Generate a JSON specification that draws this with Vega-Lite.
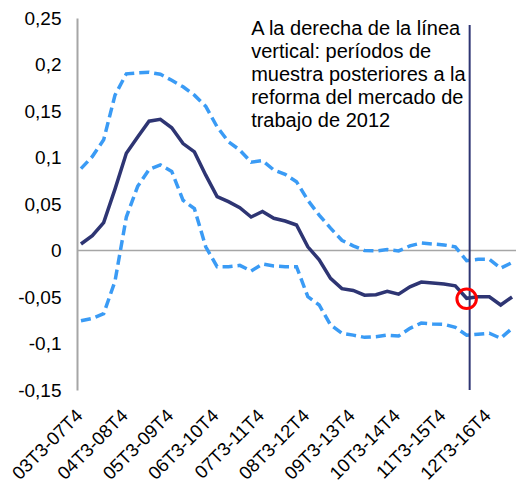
{
  "$schema": "https://vega.github.io/schema/vega-lite/v6.json",
  "width": 439,
  "height": 372,
  "autosize": "none",
  "padding": {"left": 77, "top": 18, "right": 0, "bottom": 94},
  "background": "white",
  "config": {"view": {"stroke": null}, "font": "Liberation Sans"},
  "data": {"values": [
    {"periodo": "03T3-07T4", "central": 0.007, "sup": 0.088, "inf": -0.0755},
    {"periodo": "03T4-08T1", "central": 0.016, "sup": 0.101, "inf": -0.073},
    {"periodo": "04T1-08T2", "central": 0.030, "sup": 0.119, "inf": -0.068},
    {"periodo": "04T2-08T3", "central": 0.066, "sup": 0.167, "inf": -0.033},
    {"periodo": "04T3-08T4", "central": 0.1045, "sup": 0.190, "inf": 0.036},
    {"periodo": "04T4-09T1", "central": 0.122, "sup": 0.191, "inf": 0.069},
    {"periodo": "05T1-09T2", "central": 0.139, "sup": 0.1916, "inf": 0.087},
    {"periodo": "05T2-09T3", "central": 0.141, "sup": 0.1895, "inf": 0.092},
    {"periodo": "05T3-09T4", "central": 0.132, "sup": 0.183, "inf": 0.085},
    {"periodo": "05T4-10T1", "central": 0.115, "sup": 0.176, "inf": 0.054},
    {"periodo": "06T1-10T2", "central": 0.106, "sup": 0.167, "inf": 0.045},
    {"periodo": "06T2-10T3", "central": 0.081, "sup": 0.155, "inf": 0.004},
    {"periodo": "06T3-10T4", "central": 0.058, "sup": 0.133, "inf": -0.0174},
    {"periodo": "06T4-11T1", "central": 0.0525, "sup": 0.117, "inf": -0.0174},
    {"periodo": "07T1-11T2", "central": 0.046, "sup": 0.108, "inf": -0.016},
    {"periodo": "07T2-11T3", "central": 0.036, "sup": 0.095, "inf": -0.022},
    {"periodo": "07T3-11T4", "central": 0.042, "sup": 0.0966, "inf": -0.0145},
    {"periodo": "07T4-12T1", "central": 0.0346, "sup": 0.0866, "inf": -0.0167},
    {"periodo": "08T1-12T2", "central": 0.0317, "sup": 0.082, "inf": -0.0174},
    {"periodo": "08T2-12T3", "central": 0.0274, "sup": 0.074, "inf": -0.0174},
    {"periodo": "08T3-12T4", "central": 0.004, "sup": 0.054, "inf": -0.0497},
    {"periodo": "08T4-13T1", "central": -0.010, "sup": 0.038, "inf": -0.0586},
    {"periodo": "09T1-13T2", "central": -0.030, "sup": 0.024, "inf": -0.080},
    {"periodo": "09T2-13T3", "central": -0.041, "sup": 0.011, "inf": -0.089},
    {"periodo": "09T3-13T4", "central": -0.043, "sup": 0.005, "inf": -0.091},
    {"periodo": "09T4-14T1", "central": -0.048, "sup": 0.000, "inf": -0.0934},
    {"periodo": "10T1-14T2", "central": -0.0475, "sup": -0.0005, "inf": -0.0927},
    {"periodo": "10T2-14T3", "central": -0.044, "sup": 0.001, "inf": -0.091},
    {"periodo": "10T3-14T4", "central": -0.047, "sup": -0.0005, "inf": -0.092},
    {"periodo": "10T4-15T1", "central": -0.039, "sup": 0.005, "inf": -0.0837},
    {"periodo": "11T1-15T2", "central": -0.034, "sup": 0.008, "inf": -0.078},
    {"periodo": "11T2-15T3", "central": -0.035, "sup": 0.007, "inf": -0.079},
    {"periodo": "11T3-15T4", "central": -0.036, "sup": 0.006, "inf": -0.0794},
    {"periodo": "11T4-16T1", "central": -0.038, "sup": 0.004, "inf": -0.0826},
    {"periodo": "12T1-16T2", "central": -0.0514, "sup": -0.011, "inf": -0.091},
    {"periodo": "12T2-16T3", "central": -0.0497, "sup": -0.0095, "inf": -0.090},
    {"periodo": "12T3-16T4", "central": -0.0497, "sup": -0.0095, "inf": -0.089},
    {"periodo": "12T4-17T1", "central": -0.0586, "sup": -0.019, "inf": -0.0944},
    {"periodo": "13T1-17T2", "central": -0.050, "sup": -0.013, "inf": -0.0837}
  ]},
  "encoding": {
    "x": {
      "field": "periodo", "type": "ordinal", "sort": null,
      "scale": {"type": "point", "padding": 0.35},
      "axis": {
        "title": null, "domain": false, "ticks": false, "grid": false,
        "values": ["03T3-07T4","04T3-08T4","05T3-09T4","06T3-10T4","07T3-11T4","08T3-12T4","09T3-13T4","10T3-14T4","11T3-15T4","12T3-16T4"],
        "labelAngle": -45, "labelAlign": "right", "labelBaseline": "middle",
        "labelFontSize": 18.5, "labelColor": "black", "labelPadding": 22, "labelOffset": -2, "labelFont": "Liberation Sans"
      }
    }
  },
  "layer": [
    {
      "data": {"values": [{}]},
      "mark": {"type": "rule", "color": "#A6A6A6", "strokeWidth": 1.5},
      "encoding": {"y": {"datum": 0, "type": "quantitative"}, "x": null}
    },
    {
      "mark": {"type": "line", "color": "#3A9BF5", "strokeWidth": 3.5, "strokeDash": [10, 5]},
      "encoding": {
        "y": {
          "field": "sup", "type": "quantitative",
          "scale": {"domain": [-0.15, 0.25], "nice": false, "zero": false},
          "axis": {
            "title": null, "values": [-0.15, -0.1, -0.05, 0, 0.05, 0.1, 0.15, 0.2, 0.25],
            "grid": false, "ticks": false, "domainColor": "#A6A6A6", "domainWidth": 2,
            "labelFontSize": 19, "labelColor": "black", "labelPadding": 16, "labelFont": "Liberation Sans",
            "labelExpr": "replace(toString(round(datum.value*100)/100), '.', ',')"
          }
        }
      }
    },
    {
      "mark": {"type": "line", "color": "#3A9BF5", "strokeWidth": 3.5, "strokeDash": [10, 5]},
      "encoding": {"y": {"field": "inf", "type": "quantitative"}}
    },
    {
      "mark": {"type": "line", "color": "#2E3573", "strokeWidth": 3.5},
      "encoding": {"y": {"field": "central", "type": "quantitative"}}
    },
    {
      "data": {"values": [{}]},
      "mark": {"type": "rule", "color": "#2E3573", "strokeWidth": 2, "xOffset": 3},
      "encoding": {
        "x": {"datum": "12T1-16T2"},
        "y": {"datum": 0.2425, "type": "quantitative"},
        "y2": {"datum": -0.15}
      }
    },
    {
      "data": {"values": [{}]},
      "mark": {"type": "point", "shape": "circle", "filled": false, "color": "#FF0000", "strokeWidth": 3, "size": 380, "opacity": 1},
      "encoding": {
        "x": {"datum": "12T1-16T2"},
        "y": {"datum": -0.052, "type": "quantitative"}
      }
    },
    {
      "data": {"values": [{}]},
      "mark": {"type": "text", "align": "left", "baseline": "alphabetic", "fontSize": 20, "lineHeight": 23, "font": "Liberation Sans", "color": "black"},
      "encoding": {
        "x": {"datum": "07T2-11T3"},
        "y": {"datum": 0.2317, "type": "quantitative"},
        "text": {"value": ["A la derecha de la línea", "vertical: períodos de", "muestra posteriores a la", "reforma del mercado de", "trabajo de 2012"]}
      }
    }
  ]
}
